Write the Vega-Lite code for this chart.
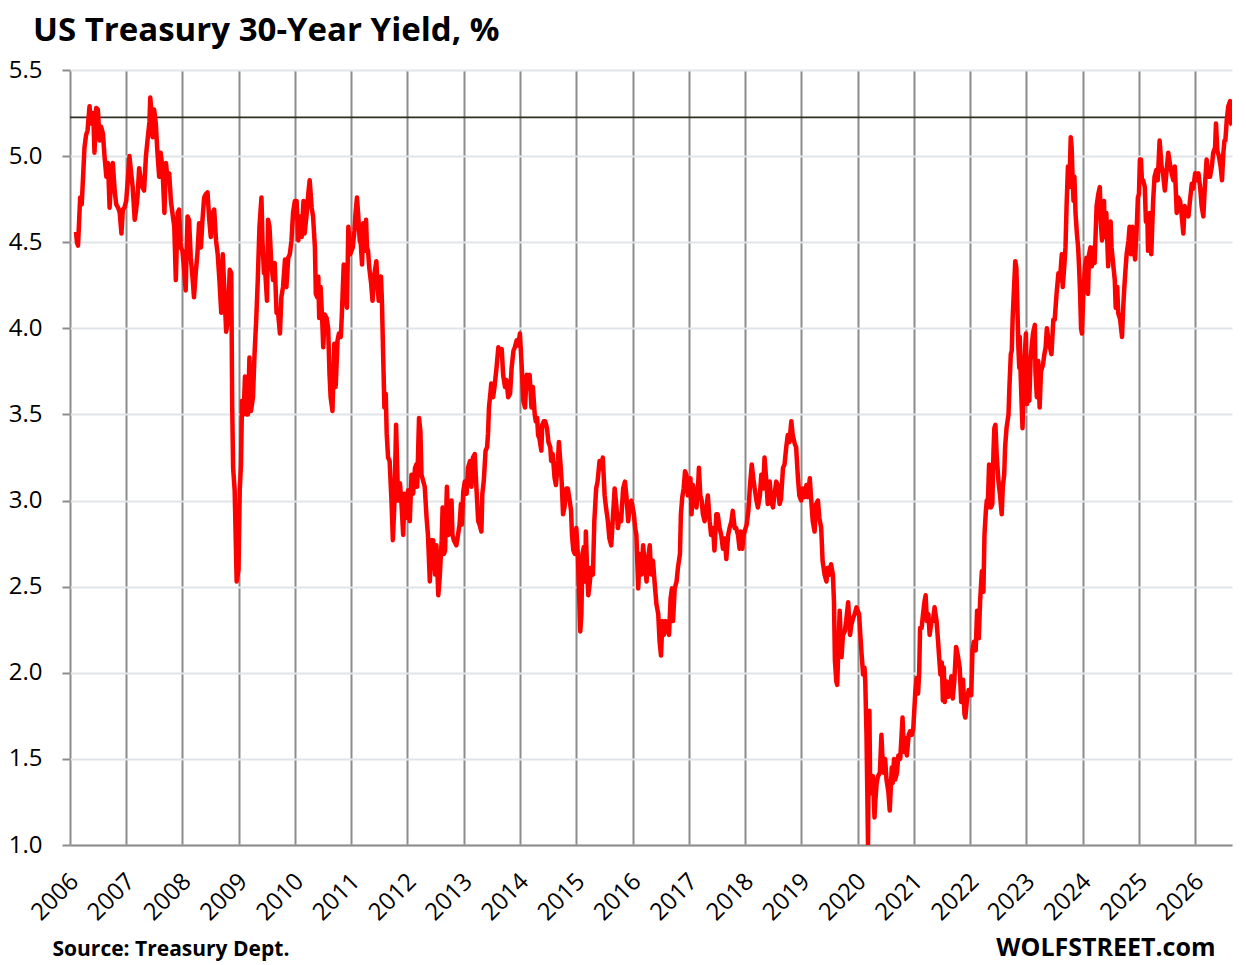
{
  "$schema": "https://vega.github.io/schema/vega-lite/v6.json",
  "width": 1162,
  "height": 775,
  "autosize": {"type": "none"},
  "padding": {"left": 70, "top": 70, "right": 14, "bottom": 120},
  "background": "white",
  "title": {
    "text": "US Treasury 30-Year Yield, %",
    "anchor": "start",
    "frame": "group",
    "dx": -37,
    "dy": -4,
    "offset": 6,
    "font": "Open Sans",
    "fontSize": 33,
    "fontWeight": "bold",
    "color": "black"
  },
  "config": {"view": {"stroke": null}, "font": "Open Sans"},
  "layer": [
    {
      "data": {"values": [{"v": 5.225}]},
      "mark": {"type": "rule", "color": "#2e2e24", "strokeWidth": 1.6},
      "encoding": {"y": {"field": "v", "type": "quantitative"}}
    },
    {
      "data": {
        "values": [
          {"d": "2006-02-09", "v": 4.56}, {"d": "2006-02-15", "v": 4.50}, {"d": "2006-02-22", "v": 4.48}, {"d": "2006-03-01", "v": 4.62}, {"d": "2006-03-08", "v": 4.76}, {"d": "2006-03-18", "v": 4.72}, {"d": "2006-03-28", "v": 4.90}, {"d": "2006-04-05", "v": 5.05}, {"d": "2006-04-15", "v": 5.12}, {"d": "2006-04-25", "v": 5.15}, {"d": "2006-05-08", "v": 5.29}, {"d": "2006-05-18", "v": 5.19}, {"d": "2006-06-01", "v": 5.25}, {"d": "2006-06-09", "v": 5.02}, {"d": "2006-06-20", "v": 5.28}, {"d": "2006-07-01", "v": 5.27}, {"d": "2006-07-12", "v": 5.09}, {"d": "2006-07-22", "v": 5.17}, {"d": "2006-08-03", "v": 5.13}, {"d": "2006-08-13", "v": 5.00}, {"d": "2006-08-25", "v": 4.88}, {"d": "2006-09-05", "v": 4.96}, {"d": "2006-09-15", "v": 4.70}, {"d": "2006-09-27", "v": 4.90}, {"d": "2006-10-06", "v": 4.96}, {"d": "2006-10-18", "v": 4.80}, {"d": "2006-10-28", "v": 4.72}, {"d": "2006-11-10", "v": 4.70}, {"d": "2006-11-20", "v": 4.67}, {"d": "2006-12-01", "v": 4.55}, {"d": "2006-12-10", "v": 4.69}, {"d": "2006-12-20", "v": 4.70},
          {"d": "2007-01-01", "v": 4.74}, {"d": "2007-01-11", "v": 4.86}, {"d": "2007-01-22", "v": 5.00}, {"d": "2007-02-02", "v": 4.90}, {"d": "2007-02-12", "v": 4.82}, {"d": "2007-02-25", "v": 4.63}, {"d": "2007-03-04", "v": 4.67}, {"d": "2007-03-15", "v": 4.76}, {"d": "2007-03-26", "v": 4.93}, {"d": "2007-04-06", "v": 4.86}, {"d": "2007-04-16", "v": 4.82}, {"d": "2007-04-27", "v": 4.80}, {"d": "2007-05-09", "v": 5.00}, {"d": "2007-05-19", "v": 5.09}, {"d": "2007-06-01", "v": 5.20}, {"d": "2007-06-06", "v": 5.34}, {"d": "2007-06-10", "v": 5.30}, {"d": "2007-06-21", "v": 5.11}, {"d": "2007-07-01", "v": 5.27}, {"d": "2007-07-12", "v": 5.19}, {"d": "2007-07-22", "v": 5.03}, {"d": "2007-08-03", "v": 4.88}, {"d": "2007-08-12", "v": 5.02}, {"d": "2007-08-24", "v": 4.94}, {"d": "2007-09-06", "v": 4.67}, {"d": "2007-09-16", "v": 4.96}, {"d": "2007-09-27", "v": 4.86}, {"d": "2007-10-07", "v": 4.90}, {"d": "2007-10-18", "v": 4.74}, {"d": "2007-10-28", "v": 4.67}, {"d": "2007-11-09", "v": 4.59}, {"d": "2007-11-19", "v": 4.28}, {"d": "2007-12-01", "v": 4.67}, {"d": "2007-12-10", "v": 4.69}, {"d": "2007-12-21", "v": 4.47},
          {"d": "2008-01-01", "v": 4.45}, {"d": "2008-01-11", "v": 4.35}, {"d": "2008-01-22", "v": 4.22}, {"d": "2008-02-03", "v": 4.65}, {"d": "2008-02-13", "v": 4.63}, {"d": "2008-02-24", "v": 4.41}, {"d": "2008-03-06", "v": 4.30}, {"d": "2008-03-16", "v": 4.18}, {"d": "2008-03-27", "v": 4.32}, {"d": "2008-04-07", "v": 4.43}, {"d": "2008-04-18", "v": 4.61}, {"d": "2008-04-30", "v": 4.47}, {"d": "2008-05-10", "v": 4.63}, {"d": "2008-05-21", "v": 4.76}, {"d": "2008-06-01", "v": 4.78}, {"d": "2008-06-12", "v": 4.79}, {"d": "2008-06-23", "v": 4.63}, {"d": "2008-07-03", "v": 4.53}, {"d": "2008-07-15", "v": 4.67}, {"d": "2008-07-25", "v": 4.69}, {"d": "2008-08-06", "v": 4.51}, {"d": "2008-08-17", "v": 4.43}, {"d": "2008-08-28", "v": 4.28}, {"d": "2008-09-09", "v": 4.09}, {"d": "2008-09-19", "v": 4.43}, {"d": "2008-10-01", "v": 4.18}, {"d": "2008-10-11", "v": 3.98}, {"d": "2008-10-22", "v": 4.05}, {"d": "2008-11-03", "v": 4.34}, {"d": "2008-11-13", "v": 4.32}, {"d": "2008-11-19", "v": 3.55}, {"d": "2008-11-25", "v": 3.19}, {"d": "2008-12-05", "v": 3.06}, {"d": "2008-12-18", "v": 2.53}, {"d": "2008-12-30", "v": 2.60},
          {"d": "2009-01-07", "v": 3.06}, {"d": "2009-01-15", "v": 3.21}, {"d": "2009-01-22", "v": 3.58}, {"d": "2009-02-01", "v": 3.50}, {"d": "2009-02-10", "v": 3.72}, {"d": "2009-02-20", "v": 3.50}, {"d": "2009-03-01", "v": 3.50}, {"d": "2009-03-11", "v": 3.83}, {"d": "2009-03-21", "v": 3.52}, {"d": "2009-04-03", "v": 3.60}, {"d": "2009-04-13", "v": 3.85}, {"d": "2009-04-24", "v": 4.05}, {"d": "2009-05-04", "v": 4.28}, {"d": "2009-05-15", "v": 4.59}, {"d": "2009-05-28", "v": 4.76}, {"d": "2009-06-04", "v": 4.50}, {"d": "2009-06-13", "v": 4.32}, {"d": "2009-06-22", "v": 4.32}, {"d": "2009-07-03", "v": 4.16}, {"d": "2009-07-10", "v": 4.63}, {"d": "2009-07-19", "v": 4.59}, {"d": "2009-08-01", "v": 4.36}, {"d": "2009-08-12", "v": 4.28}, {"d": "2009-08-22", "v": 4.38}, {"d": "2009-09-03", "v": 4.09}, {"d": "2009-09-13", "v": 4.09}, {"d": "2009-09-25", "v": 3.97}, {"d": "2009-10-04", "v": 4.18}, {"d": "2009-10-15", "v": 4.24}, {"d": "2009-10-28", "v": 4.40}, {"d": "2009-11-06", "v": 4.24}, {"d": "2009-11-18", "v": 4.41}, {"d": "2009-11-28", "v": 4.43}, {"d": "2009-12-09", "v": 4.51}, {"d": "2009-12-19", "v": 4.67}, {"d": "2009-12-31", "v": 4.74},
          {"d": "2010-01-11", "v": 4.74}, {"d": "2010-01-22", "v": 4.51}, {"d": "2010-02-03", "v": 4.65}, {"d": "2010-02-13", "v": 4.53}, {"d": "2010-02-25", "v": 4.74}, {"d": "2010-03-04", "v": 4.55}, {"d": "2010-03-16", "v": 4.65}, {"d": "2010-03-28", "v": 4.78}, {"d": "2010-04-06", "v": 4.86}, {"d": "2010-04-19", "v": 4.70}, {"d": "2010-04-28", "v": 4.65}, {"d": "2010-05-10", "v": 4.47}, {"d": "2010-05-16", "v": 4.20}, {"d": "2010-05-25", "v": 4.18}, {"d": "2010-06-01", "v": 4.30}, {"d": "2010-06-07", "v": 4.06}, {"d": "2010-06-16", "v": 4.24}, {"d": "2010-06-25", "v": 4.08}, {"d": "2010-07-03", "v": 3.89}, {"d": "2010-07-13", "v": 4.08}, {"d": "2010-07-25", "v": 4.06}, {"d": "2010-08-04", "v": 4.00}, {"d": "2010-08-13", "v": 3.73}, {"d": "2010-08-20", "v": 3.60}, {"d": "2010-09-01", "v": 3.52}, {"d": "2010-09-13", "v": 3.91}, {"d": "2010-09-22", "v": 3.66}, {"d": "2010-10-04", "v": 3.93}, {"d": "2010-10-13", "v": 3.97}, {"d": "2010-10-25", "v": 3.95}, {"d": "2010-11-01", "v": 4.08}, {"d": "2010-11-13", "v": 4.37}, {"d": "2010-11-22", "v": 4.28}, {"d": "2010-12-04", "v": 4.12}, {"d": "2010-12-13", "v": 4.59}, {"d": "2010-12-25", "v": 4.43},
          {"d": "2011-01-11", "v": 4.47}, {"d": "2011-01-22", "v": 4.57}, {"d": "2011-01-28", "v": 4.66}, {"d": "2011-02-07", "v": 4.76}, {"d": "2011-02-15", "v": 4.66}, {"d": "2011-02-25", "v": 4.51}, {"d": "2011-03-04", "v": 4.49}, {"d": "2011-03-12", "v": 4.37}, {"d": "2011-03-19", "v": 4.61}, {"d": "2011-03-28", "v": 4.45}, {"d": "2011-04-07", "v": 4.63}, {"d": "2011-04-13", "v": 4.47}, {"d": "2011-04-20", "v": 4.45}, {"d": "2011-04-28", "v": 4.35}, {"d": "2011-05-10", "v": 4.26}, {"d": "2011-05-19", "v": 4.16}, {"d": "2011-06-01", "v": 4.32}, {"d": "2011-06-13", "v": 4.39}, {"d": "2011-06-19", "v": 4.28}, {"d": "2011-06-28", "v": 4.16}, {"d": "2011-07-04", "v": 4.28}, {"d": "2011-07-13", "v": 4.30}, {"d": "2011-07-19", "v": 4.16}, {"d": "2011-07-28", "v": 3.81}, {"d": "2011-08-04", "v": 3.54}, {"d": "2011-08-13", "v": 3.62}, {"d": "2011-08-19", "v": 3.39}, {"d": "2011-08-28", "v": 3.25}, {"d": "2011-09-07", "v": 3.23}, {"d": "2011-09-19", "v": 3.00}, {"d": "2011-09-28", "v": 2.77}, {"d": "2011-10-09", "v": 3.00}, {"d": "2011-10-19", "v": 3.44}, {"d": "2011-11-01", "v": 3.00}, {"d": "2011-11-13", "v": 3.10}, {"d": "2011-11-22", "v": 3.00}, {"d": "2011-12-04", "v": 2.80}, {"d": "2011-12-13", "v": 3.04}, {"d": "2011-12-25", "v": 2.90},
          {"d": "2012-01-05", "v": 3.06}, {"d": "2012-01-16", "v": 2.88}, {"d": "2012-01-27", "v": 3.15}, {"d": "2012-02-07", "v": 3.04}, {"d": "2012-02-19", "v": 3.19}, {"d": "2012-02-28", "v": 3.21}, {"d": "2012-03-04", "v": 3.08}, {"d": "2012-03-16", "v": 3.48}, {"d": "2012-03-25", "v": 3.40}, {"d": "2012-04-01", "v": 3.15}, {"d": "2012-04-13", "v": 3.11}, {"d": "2012-04-22", "v": 3.08}, {"d": "2012-05-04", "v": 2.90}, {"d": "2012-05-13", "v": 2.80}, {"d": "2012-05-25", "v": 2.53}, {"d": "2012-06-04", "v": 2.77}, {"d": "2012-06-16", "v": 2.77}, {"d": "2012-06-28", "v": 2.57}, {"d": "2012-07-07", "v": 2.74}, {"d": "2012-07-19", "v": 2.45}, {"d": "2012-07-28", "v": 2.55}, {"d": "2012-08-10", "v": 2.77}, {"d": "2012-08-16", "v": 2.96}, {"d": "2012-08-25", "v": 2.69}, {"d": "2012-09-01", "v": 2.71}, {"d": "2012-09-13", "v": 3.08}, {"d": "2012-09-22", "v": 2.80}, {"d": "2012-10-04", "v": 2.86}, {"d": "2012-10-13", "v": 3.00}, {"d": "2012-10-19", "v": 2.80}, {"d": "2012-10-28", "v": 2.77}, {"d": "2012-11-13", "v": 2.74}, {"d": "2012-11-19", "v": 2.77}, {"d": "2012-12-04", "v": 2.86}, {"d": "2012-12-13", "v": 2.98}, {"d": "2012-12-19", "v": 2.86}, {"d": "2012-12-28", "v": 3.05},
          {"d": "2013-01-07", "v": 3.11}, {"d": "2013-01-19", "v": 3.04}, {"d": "2013-01-28", "v": 3.19}, {"d": "2013-02-10", "v": 3.23}, {"d": "2013-02-19", "v": 3.08}, {"d": "2013-03-01", "v": 3.25}, {"d": "2013-03-13", "v": 3.27}, {"d": "2013-03-22", "v": 3.10}, {"d": "2013-04-04", "v": 2.88}, {"d": "2013-04-13", "v": 2.86}, {"d": "2013-04-25", "v": 2.82}, {"d": "2013-05-01", "v": 3.04}, {"d": "2013-05-10", "v": 3.11}, {"d": "2013-05-22", "v": 3.29}, {"d": "2013-06-01", "v": 3.31}, {"d": "2013-06-07", "v": 3.39}, {"d": "2013-06-13", "v": 3.54}, {"d": "2013-06-22", "v": 3.62}, {"d": "2013-06-28", "v": 3.68}, {"d": "2013-07-10", "v": 3.60}, {"d": "2013-07-19", "v": 3.66}, {"d": "2013-08-01", "v": 3.77}, {"d": "2013-08-13", "v": 3.89}, {"d": "2013-08-22", "v": 3.85}, {"d": "2013-09-04", "v": 3.88}, {"d": "2013-09-13", "v": 3.73}, {"d": "2013-09-25", "v": 3.66}, {"d": "2013-10-04", "v": 3.70}, {"d": "2013-10-16", "v": 3.60}, {"d": "2013-10-28", "v": 3.62}, {"d": "2013-11-07", "v": 3.77}, {"d": "2013-11-19", "v": 3.87}, {"d": "2013-11-28", "v": 3.89}, {"d": "2013-12-10", "v": 3.93}, {"d": "2013-12-20", "v": 3.90}, {"d": "2013-12-31", "v": 3.97},
          {"d": "2014-01-11", "v": 3.79}, {"d": "2014-01-22", "v": 3.58}, {"d": "2014-02-02", "v": 3.54}, {"d": "2014-02-13", "v": 3.73}, {"d": "2014-02-23", "v": 3.69}, {"d": "2014-03-04", "v": 3.73}, {"d": "2014-03-16", "v": 3.54}, {"d": "2014-03-25", "v": 3.66}, {"d": "2014-04-06", "v": 3.50}, {"d": "2014-04-13", "v": 3.46}, {"d": "2014-04-22", "v": 3.48}, {"d": "2014-04-28", "v": 3.38}, {"d": "2014-05-07", "v": 3.36}, {"d": "2014-05-19", "v": 3.29}, {"d": "2014-05-25", "v": 3.44}, {"d": "2014-06-04", "v": 3.46}, {"d": "2014-06-13", "v": 3.46}, {"d": "2014-06-25", "v": 3.42}, {"d": "2014-07-04", "v": 3.34}, {"d": "2014-07-16", "v": 3.31}, {"d": "2014-07-22", "v": 3.23}, {"d": "2014-08-01", "v": 3.27}, {"d": "2014-08-13", "v": 3.13}, {"d": "2014-08-22", "v": 3.09}, {"d": "2014-09-04", "v": 3.23}, {"d": "2014-09-10", "v": 3.34}, {"d": "2014-09-19", "v": 3.23}, {"d": "2014-09-28", "v": 3.11}, {"d": "2014-10-07", "v": 2.92}, {"d": "2014-10-16", "v": 2.96}, {"d": "2014-10-28", "v": 3.07}, {"d": "2014-11-07", "v": 3.07}, {"d": "2014-11-19", "v": 3.00}, {"d": "2014-11-28", "v": 2.94}, {"d": "2014-12-04", "v": 2.80}, {"d": "2014-12-13", "v": 2.71}, {"d": "2014-12-22", "v": 2.69},
          {"d": "2015-01-01", "v": 2.84}, {"d": "2015-01-11", "v": 2.69}, {"d": "2015-01-18", "v": 2.49}, {"d": "2015-01-27", "v": 2.24}, {"d": "2015-02-03", "v": 2.34}, {"d": "2015-02-10", "v": 2.69}, {"d": "2015-02-19", "v": 2.73}, {"d": "2015-02-28", "v": 2.53}, {"d": "2015-03-04", "v": 2.82}, {"d": "2015-03-13", "v": 2.57}, {"d": "2015-03-20", "v": 2.45}, {"d": "2015-03-28", "v": 2.51}, {"d": "2015-04-07", "v": 2.61}, {"d": "2015-04-19", "v": 2.57}, {"d": "2015-04-28", "v": 2.88}, {"d": "2015-05-10", "v": 3.07}, {"d": "2015-05-19", "v": 3.11}, {"d": "2015-06-01", "v": 3.23}, {"d": "2015-06-13", "v": 3.19}, {"d": "2015-06-22", "v": 3.25}, {"d": "2015-07-04", "v": 3.03}, {"d": "2015-07-13", "v": 2.96}, {"d": "2015-07-25", "v": 2.88}, {"d": "2015-08-04", "v": 2.78}, {"d": "2015-08-16", "v": 2.74}, {"d": "2015-08-28", "v": 2.92}, {"d": "2015-09-07", "v": 3.07}, {"d": "2015-09-19", "v": 2.96}, {"d": "2015-09-28", "v": 2.84}, {"d": "2015-10-10", "v": 2.92}, {"d": "2015-10-19", "v": 2.88}, {"d": "2015-11-01", "v": 3.07}, {"d": "2015-11-13", "v": 3.11}, {"d": "2015-11-22", "v": 3.03}, {"d": "2015-12-04", "v": 2.88}, {"d": "2015-12-13", "v": 2.96}, {"d": "2015-12-25", "v": 3.00},
          {"d": "2016-01-10", "v": 2.92}, {"d": "2016-01-18", "v": 2.84}, {"d": "2016-01-26", "v": 2.80}, {"d": "2016-02-07", "v": 2.49}, {"d": "2016-02-17", "v": 2.69}, {"d": "2016-02-28", "v": 2.57}, {"d": "2016-03-10", "v": 2.74}, {"d": "2016-03-19", "v": 2.65}, {"d": "2016-04-01", "v": 2.53}, {"d": "2016-04-10", "v": 2.65}, {"d": "2016-04-22", "v": 2.74}, {"d": "2016-05-01", "v": 2.57}, {"d": "2016-05-13", "v": 2.65}, {"d": "2016-05-23", "v": 2.53}, {"d": "2016-06-04", "v": 2.40}, {"d": "2016-06-16", "v": 2.34}, {"d": "2016-06-25", "v": 2.18}, {"d": "2016-07-04", "v": 2.10}, {"d": "2016-07-13", "v": 2.30}, {"d": "2016-07-22", "v": 2.22}, {"d": "2016-08-04", "v": 2.30}, {"d": "2016-08-13", "v": 2.26}, {"d": "2016-08-25", "v": 2.22}, {"d": "2016-09-04", "v": 2.43}, {"d": "2016-09-13", "v": 2.49}, {"d": "2016-09-20", "v": 2.30}, {"d": "2016-10-01", "v": 2.49}, {"d": "2016-10-13", "v": 2.53}, {"d": "2016-10-22", "v": 2.61}, {"d": "2016-11-04", "v": 2.69}, {"d": "2016-11-10", "v": 2.92}, {"d": "2016-11-19", "v": 3.02}, {"d": "2016-11-28", "v": 3.07}, {"d": "2016-12-07", "v": 3.17}, {"d": "2016-12-16", "v": 3.15}, {"d": "2016-12-25", "v": 3.03},
          {"d": "2017-01-11", "v": 3.13}, {"d": "2017-01-18", "v": 2.92}, {"d": "2017-01-28", "v": 3.09}, {"d": "2017-02-09", "v": 3.03}, {"d": "2017-02-19", "v": 2.96}, {"d": "2017-03-01", "v": 3.07}, {"d": "2017-03-07", "v": 3.19}, {"d": "2017-03-16", "v": 3.03}, {"d": "2017-03-25", "v": 3.00}, {"d": "2017-04-02", "v": 2.92}, {"d": "2017-04-13", "v": 2.88}, {"d": "2017-04-25", "v": 2.96}, {"d": "2017-05-04", "v": 3.03}, {"d": "2017-05-16", "v": 2.88}, {"d": "2017-05-25", "v": 2.80}, {"d": "2017-06-07", "v": 2.84}, {"d": "2017-06-16", "v": 2.71}, {"d": "2017-06-28", "v": 2.92}, {"d": "2017-07-07", "v": 2.92}, {"d": "2017-07-19", "v": 2.84}, {"d": "2017-07-30", "v": 2.80}, {"d": "2017-08-10", "v": 2.72}, {"d": "2017-08-22", "v": 2.78}, {"d": "2017-09-01", "v": 2.66}, {"d": "2017-09-13", "v": 2.80}, {"d": "2017-09-22", "v": 2.84}, {"d": "2017-10-04", "v": 2.88}, {"d": "2017-10-13", "v": 2.94}, {"d": "2017-10-25", "v": 2.84}, {"d": "2017-11-04", "v": 2.84}, {"d": "2017-11-16", "v": 2.80}, {"d": "2017-11-26", "v": 2.72}, {"d": "2017-12-04", "v": 2.82}, {"d": "2017-12-14", "v": 2.72}, {"d": "2017-12-22", "v": 2.80},
          {"d": "2018-01-11", "v": 2.86}, {"d": "2018-01-22", "v": 2.94}, {"d": "2018-02-02", "v": 3.09}, {"d": "2018-02-13", "v": 3.21}, {"d": "2018-02-23", "v": 3.13}, {"d": "2018-03-04", "v": 3.07}, {"d": "2018-03-16", "v": 3.00}, {"d": "2018-03-25", "v": 2.96}, {"d": "2018-04-07", "v": 3.03}, {"d": "2018-04-16", "v": 3.15}, {"d": "2018-04-28", "v": 3.07}, {"d": "2018-05-07", "v": 3.25}, {"d": "2018-05-19", "v": 3.11}, {"d": "2018-05-28", "v": 2.98}, {"d": "2018-06-10", "v": 3.11}, {"d": "2018-06-19", "v": 3.00}, {"d": "2018-07-01", "v": 2.96}, {"d": "2018-07-10", "v": 3.03}, {"d": "2018-07-22", "v": 3.11}, {"d": "2018-08-01", "v": 3.09}, {"d": "2018-08-13", "v": 2.98}, {"d": "2018-08-22", "v": 3.01}, {"d": "2018-09-04", "v": 3.19}, {"d": "2018-09-14", "v": 3.21}, {"d": "2018-09-25", "v": 3.31}, {"d": "2018-10-05", "v": 3.38}, {"d": "2018-10-16", "v": 3.34}, {"d": "2018-10-28", "v": 3.46}, {"d": "2018-11-06", "v": 3.38}, {"d": "2018-11-19", "v": 3.33}, {"d": "2018-11-28", "v": 3.31}, {"d": "2018-12-10", "v": 3.13}, {"d": "2018-12-19", "v": 3.03}, {"d": "2018-12-31", "v": 3.00},
          {"d": "2019-01-11", "v": 3.07}, {"d": "2019-01-22", "v": 3.02}, {"d": "2019-02-03", "v": 3.09}, {"d": "2019-02-13", "v": 3.02}, {"d": "2019-02-25", "v": 3.13}, {"d": "2019-03-04", "v": 3.03}, {"d": "2019-03-16", "v": 2.88}, {"d": "2019-03-28", "v": 2.82}, {"d": "2019-04-07", "v": 2.98}, {"d": "2019-04-19", "v": 3.00}, {"d": "2019-04-28", "v": 2.90}, {"d": "2019-05-10", "v": 2.84}, {"d": "2019-05-19", "v": 2.65}, {"d": "2019-06-01", "v": 2.57}, {"d": "2019-06-13", "v": 2.53}, {"d": "2019-06-22", "v": 2.61}, {"d": "2019-07-04", "v": 2.57}, {"d": "2019-07-13", "v": 2.63}, {"d": "2019-07-25", "v": 2.57}, {"d": "2019-08-01", "v": 2.41}, {"d": "2019-08-07", "v": 2.07}, {"d": "2019-08-16", "v": 1.95}, {"d": "2019-08-22", "v": 1.93}, {"d": "2019-08-28", "v": 2.10}, {"d": "2019-09-07", "v": 2.36}, {"d": "2019-09-13", "v": 2.22}, {"d": "2019-09-19", "v": 2.09}, {"d": "2019-09-28", "v": 2.22}, {"d": "2019-10-10", "v": 2.24}, {"d": "2019-10-19", "v": 2.30}, {"d": "2019-11-01", "v": 2.41}, {"d": "2019-11-13", "v": 2.22}, {"d": "2019-11-22", "v": 2.28}, {"d": "2019-12-04", "v": 2.32}, {"d": "2019-12-13", "v": 2.34}, {"d": "2019-12-25", "v": 2.38},
          {"d": "2020-01-11", "v": 2.34}, {"d": "2020-01-19", "v": 2.22}, {"d": "2020-01-28", "v": 2.10}, {"d": "2020-02-06", "v": 1.99}, {"d": "2020-02-15", "v": 2.03}, {"d": "2020-02-20", "v": 1.95}, {"d": "2020-02-28", "v": 1.64}, {"d": "2020-03-09", "v": 1.00}, {"d": "2020-03-13", "v": 1.45}, {"d": "2020-03-18", "v": 1.78}, {"d": "2020-03-23", "v": 1.30}, {"d": "2020-04-01", "v": 1.36}, {"d": "2020-04-10", "v": 1.40}, {"d": "2020-04-20", "v": 1.16}, {"d": "2020-04-25", "v": 1.25}, {"d": "2020-05-04", "v": 1.36}, {"d": "2020-05-13", "v": 1.40}, {"d": "2020-05-25", "v": 1.42}, {"d": "2020-06-04", "v": 1.64}, {"d": "2020-06-10", "v": 1.52}, {"d": "2020-06-16", "v": 1.42}, {"d": "2020-06-28", "v": 1.50}, {"d": "2020-07-07", "v": 1.38}, {"d": "2020-07-19", "v": 1.31}, {"d": "2020-07-28", "v": 1.20}, {"d": "2020-08-10", "v": 1.45}, {"d": "2020-08-16", "v": 1.36}, {"d": "2020-08-25", "v": 1.50}, {"d": "2020-09-01", "v": 1.38}, {"d": "2020-09-13", "v": 1.42}, {"d": "2020-09-22", "v": 1.52}, {"d": "2020-10-04", "v": 1.50}, {"d": "2020-10-13", "v": 1.64}, {"d": "2020-10-19", "v": 1.74}, {"d": "2020-10-28", "v": 1.54}, {"d": "2020-11-04", "v": 1.58}, {"d": "2020-11-10", "v": 1.62}, {"d": "2020-11-16", "v": 1.52}, {"d": "2020-11-28", "v": 1.64}, {"d": "2020-12-07", "v": 1.66}, {"d": "2020-12-19", "v": 1.64}, {"d": "2020-12-28", "v": 1.68},
          {"d": "2021-01-10", "v": 1.89}, {"d": "2021-01-19", "v": 1.97}, {"d": "2021-01-28", "v": 1.88}, {"d": "2021-02-04", "v": 2.00}, {"d": "2021-02-10", "v": 2.26}, {"d": "2021-02-20", "v": 2.26}, {"d": "2021-03-01", "v": 2.34}, {"d": "2021-03-10", "v": 2.41}, {"d": "2021-03-18", "v": 2.45}, {"d": "2021-03-26", "v": 2.30}, {"d": "2021-04-05", "v": 2.34}, {"d": "2021-04-13", "v": 2.22}, {"d": "2021-04-25", "v": 2.30}, {"d": "2021-05-04", "v": 2.30}, {"d": "2021-05-15", "v": 2.38}, {"d": "2021-05-28", "v": 2.30}, {"d": "2021-06-07", "v": 2.18}, {"d": "2021-06-13", "v": 2.10}, {"d": "2021-06-22", "v": 1.99}, {"d": "2021-07-01", "v": 2.06}, {"d": "2021-07-08", "v": 1.84}, {"d": "2021-07-14", "v": 2.03}, {"d": "2021-07-20", "v": 1.83}, {"d": "2021-08-01", "v": 1.95}, {"d": "2021-08-13", "v": 1.86}, {"d": "2021-08-22", "v": 1.90}, {"d": "2021-09-01", "v": 1.98}, {"d": "2021-09-10", "v": 1.85}, {"d": "2021-09-20", "v": 1.95}, {"d": "2021-10-02", "v": 2.15}, {"d": "2021-10-13", "v": 2.10}, {"d": "2021-10-25", "v": 2.03}, {"d": "2021-11-04", "v": 1.83}, {"d": "2021-11-16", "v": 1.96}, {"d": "2021-11-25", "v": 1.76}, {"d": "2021-12-01", "v": 1.74}, {"d": "2021-12-10", "v": 1.83}, {"d": "2021-12-22", "v": 1.90},
          {"d": "2022-01-08", "v": 1.87}, {"d": "2022-01-16", "v": 2.13}, {"d": "2022-01-25", "v": 2.18}, {"d": "2022-02-06", "v": 2.13}, {"d": "2022-02-15", "v": 2.36}, {"d": "2022-02-26", "v": 2.20}, {"d": "2022-03-07", "v": 2.42}, {"d": "2022-03-18", "v": 2.59}, {"d": "2022-03-28", "v": 2.47}, {"d": "2022-04-04", "v": 2.80}, {"d": "2022-04-13", "v": 2.94}, {"d": "2022-04-19", "v": 3.00}, {"d": "2022-04-25", "v": 2.96}, {"d": "2022-05-04", "v": 3.21}, {"d": "2022-05-10", "v": 3.15}, {"d": "2022-05-16", "v": 2.96}, {"d": "2022-05-25", "v": 2.98}, {"d": "2022-06-01", "v": 3.27}, {"d": "2022-06-07", "v": 3.42}, {"d": "2022-06-14", "v": 3.44}, {"d": "2022-06-22", "v": 3.27}, {"d": "2022-07-04", "v": 3.11}, {"d": "2022-07-13", "v": 3.04}, {"d": "2022-07-25", "v": 2.92}, {"d": "2022-08-01", "v": 3.08}, {"d": "2022-08-10", "v": 3.15}, {"d": "2022-08-16", "v": 3.31}, {"d": "2022-08-25", "v": 3.42}, {"d": "2022-09-07", "v": 3.50}, {"d": "2022-09-13", "v": 3.66}, {"d": "2022-09-22", "v": 3.85}, {"d": "2022-09-28", "v": 3.87}, {"d": "2022-10-04", "v": 4.06}, {"d": "2022-10-13", "v": 4.24}, {"d": "2022-10-21", "v": 4.39}, {"d": "2022-10-28", "v": 4.35}, {"d": "2022-11-04", "v": 4.12}, {"d": "2022-11-10", "v": 3.89}, {"d": "2022-11-16", "v": 3.77}, {"d": "2022-11-19", "v": 3.95}, {"d": "2022-11-25", "v": 3.73}, {"d": "2022-12-02", "v": 3.54}, {"d": "2022-12-07", "v": 3.42}, {"d": "2022-12-13", "v": 3.62}, {"d": "2022-12-22", "v": 3.85}, {"d": "2022-12-29", "v": 3.97},
          {"d": "2023-01-06", "v": 3.56}, {"d": "2023-01-12", "v": 3.70}, {"d": "2023-01-20", "v": 3.58}, {"d": "2023-01-28", "v": 3.81}, {"d": "2023-02-04", "v": 3.89}, {"d": "2023-02-13", "v": 3.97}, {"d": "2023-02-25", "v": 4.02}, {"d": "2023-03-01", "v": 3.75}, {"d": "2023-03-10", "v": 3.60}, {"d": "2023-03-19", "v": 3.81}, {"d": "2023-03-28", "v": 3.54}, {"d": "2023-04-06", "v": 3.75}, {"d": "2023-04-19", "v": 3.79}, {"d": "2023-04-28", "v": 3.85}, {"d": "2023-05-06", "v": 3.89}, {"d": "2023-05-14", "v": 4.00}, {"d": "2023-05-22", "v": 3.95}, {"d": "2023-06-03", "v": 3.89}, {"d": "2023-06-13", "v": 3.85}, {"d": "2023-06-25", "v": 4.05}, {"d": "2023-07-04", "v": 4.05}, {"d": "2023-07-16", "v": 4.20}, {"d": "2023-07-28", "v": 4.32}, {"d": "2023-08-07", "v": 4.28}, {"d": "2023-08-19", "v": 4.43}, {"d": "2023-08-25", "v": 4.24}, {"d": "2023-09-04", "v": 4.36}, {"d": "2023-09-12", "v": 4.47}, {"d": "2023-09-19", "v": 4.71}, {"d": "2023-09-28", "v": 4.94}, {"d": "2023-10-07", "v": 4.82}, {"d": "2023-10-16", "v": 5.11}, {"d": "2023-10-22", "v": 5.05}, {"d": "2023-10-28", "v": 4.88}, {"d": "2023-11-03", "v": 4.74}, {"d": "2023-11-09", "v": 4.88}, {"d": "2023-11-16", "v": 4.67}, {"d": "2023-11-25", "v": 4.55}, {"d": "2023-12-03", "v": 4.47}, {"d": "2023-12-09", "v": 4.36}, {"d": "2023-12-16", "v": 4.20}, {"d": "2023-12-22", "v": 4.00}, {"d": "2023-12-28", "v": 3.97},
          {"d": "2024-01-05", "v": 4.18}, {"d": "2024-01-16", "v": 4.36}, {"d": "2024-01-26", "v": 4.41}, {"d": "2024-02-05", "v": 4.20}, {"d": "2024-02-12", "v": 4.43}, {"d": "2024-02-21", "v": 4.47}, {"d": "2024-03-01", "v": 4.36}, {"d": "2024-03-10", "v": 4.47}, {"d": "2024-03-19", "v": 4.38}, {"d": "2024-04-01", "v": 4.71}, {"d": "2024-04-12", "v": 4.78}, {"d": "2024-04-22", "v": 4.82}, {"d": "2024-04-28", "v": 4.62}, {"d": "2024-05-06", "v": 4.51}, {"d": "2024-05-19", "v": 4.74}, {"d": "2024-05-25", "v": 4.53}, {"d": "2024-06-03", "v": 4.67}, {"d": "2024-06-15", "v": 4.36}, {"d": "2024-06-22", "v": 4.55}, {"d": "2024-07-01", "v": 4.62}, {"d": "2024-07-07", "v": 4.47}, {"d": "2024-07-19", "v": 4.36}, {"d": "2024-07-28", "v": 4.28}, {"d": "2024-08-03", "v": 4.12}, {"d": "2024-08-13", "v": 4.24}, {"d": "2024-08-19", "v": 4.09}, {"d": "2024-09-01", "v": 4.05}, {"d": "2024-09-13", "v": 3.95}, {"d": "2024-09-19", "v": 4.09}, {"d": "2024-09-28", "v": 4.24}, {"d": "2024-10-04", "v": 4.32}, {"d": "2024-10-13", "v": 4.43}, {"d": "2024-10-25", "v": 4.51}, {"d": "2024-11-01", "v": 4.59}, {"d": "2024-11-10", "v": 4.43}, {"d": "2024-11-19", "v": 4.59}, {"d": "2024-11-28", "v": 4.47}, {"d": "2024-12-07", "v": 4.40}, {"d": "2024-12-19", "v": 4.62}, {"d": "2024-12-25", "v": 4.76},
          {"d": "2025-01-01", "v": 4.78}, {"d": "2025-01-07", "v": 4.98}, {"d": "2025-01-14", "v": 4.98}, {"d": "2025-01-20", "v": 4.86}, {"d": "2025-01-28", "v": 4.86}, {"d": "2025-02-08", "v": 4.82}, {"d": "2025-02-15", "v": 4.62}, {"d": "2025-02-25", "v": 4.62}, {"d": "2025-03-01", "v": 4.45}, {"d": "2025-03-12", "v": 4.67}, {"d": "2025-03-22", "v": 4.43}, {"d": "2025-04-03", "v": 4.74}, {"d": "2025-04-12", "v": 4.88}, {"d": "2025-04-24", "v": 4.92}, {"d": "2025-05-03", "v": 4.86}, {"d": "2025-05-15", "v": 5.09}, {"d": "2025-05-28", "v": 4.94}, {"d": "2025-06-06", "v": 4.90}, {"d": "2025-06-18", "v": 4.80}, {"d": "2025-06-28", "v": 4.90}, {"d": "2025-07-10", "v": 5.02}, {"d": "2025-07-20", "v": 4.96}, {"d": "2025-08-01", "v": 4.90}, {"d": "2025-08-12", "v": 4.86}, {"d": "2025-08-22", "v": 4.94}, {"d": "2025-09-03", "v": 4.67}, {"d": "2025-09-13", "v": 4.76}, {"d": "2025-09-25", "v": 4.74}, {"d": "2025-10-04", "v": 4.67}, {"d": "2025-10-16", "v": 4.55}, {"d": "2025-10-25", "v": 4.71}, {"d": "2025-11-06", "v": 4.67}, {"d": "2025-11-18", "v": 4.65}, {"d": "2025-11-28", "v": 4.74}, {"d": "2025-12-10", "v": 4.84}, {"d": "2025-12-19", "v": 4.81},
          {"d": "2026-01-01", "v": 4.90}, {"d": "2026-01-11", "v": 4.86}, {"d": "2026-01-22", "v": 4.90}, {"d": "2026-02-03", "v": 4.81}, {"d": "2026-02-12", "v": 4.71}, {"d": "2026-02-23", "v": 4.65}, {"d": "2026-03-04", "v": 4.81}, {"d": "2026-03-16", "v": 4.98}, {"d": "2026-03-28", "v": 4.88}, {"d": "2026-04-07", "v": 4.88}, {"d": "2026-04-19", "v": 4.94}, {"d": "2026-04-28", "v": 5.02}, {"d": "2026-05-10", "v": 5.05}, {"d": "2026-05-16", "v": 5.19}, {"d": "2026-05-25", "v": 5.03}, {"d": "2026-06-04", "v": 5.00}, {"d": "2026-06-15", "v": 4.94}, {"d": "2026-06-24", "v": 4.86}, {"d": "2026-07-03", "v": 5.02}, {"d": "2026-07-10", "v": 5.09}, {"d": "2026-07-16", "v": 5.09}, {"d": "2026-07-25", "v": 5.21}, {"d": "2026-08-04", "v": 5.29}, {"d": "2026-08-16", "v": 5.32}, {"d": "2026-08-22", "v": 5.19}, {"d": "2026-08-28", "v": 5.18}
        ]
      },
      "mark": {"type": "line", "color": "#ff0000", "strokeWidth": 4.5, "strokeJoin": "round", "clip": true},
      "encoding": {
        "x": {
          "field": "d",
          "type": "temporal",
          "scale": {"type": "utc", "domain": ["2006-01-01", "2026-08-28"]},
          "axis": {
            "tickCount": {"interval": "year", "step": 1},
            "format": "%Y",
            "labelAngle": -45,
            "labelAlign": "right",
            "labelBaseline": "top",
            "labelFont": "Open Sans",
            "labelFontSize": 24,
            "labelColor": "black",
            "labelPadding": 24,
            "labelOffset": -4,
            "ticks": false,
            "domainColor": "#8c8c8c",
            "domainWidth": 2,
            "grid": true,
            "gridColor": "#8c8c8c",
            "gridWidth": 2,
            "title": "Source: Treasury Dept.",
            "titleAnchor": null,
            "titleAlign": "left",
            "titleBaseline": "alphabetic",
            "titleX": -18,
            "titleY": 110,
            "titleFont": "Open Sans",
            "titleFontSize": 21,
            "titleFontWeight": "bold",
            "titleColor": "black"
          }
        },
        "y": {
          "field": "v",
          "type": "quantitative",
          "scale": {"domain": [1, 5.5], "nice": false, "zero": false},
          "axis": {
            "values": [1, 1.5, 2, 2.5, 3, 3.5, 4, 4.5, 5, 5.5],
            "format": ".1f",
            "labelFont": "Open Sans",
            "labelFontSize": 24,
            "labelColor": "black",
            "labelPadding": 20,
            "tickSize": 8,
            "tickColor": "#8c8c8c",
            "tickWidth": 2,
            "domain": false,
            "grid": true,
            "gridColor": "#e1e4e8",
            "gridWidth": 2,
            "title": "WOLFSTREET.com",
            "titleAngle": 0,
            "titleAnchor": null,
            "titleAlign": "right",
            "titleBaseline": "alphabetic",
            "titleX": 1145,
            "titleY": 885,
            "titleFont": "Open Sans",
            "titleFontSize": 25,
            "titleFontWeight": "bold",
            "titleColor": "black"
          }
        }
      }
    }
  ]
}
